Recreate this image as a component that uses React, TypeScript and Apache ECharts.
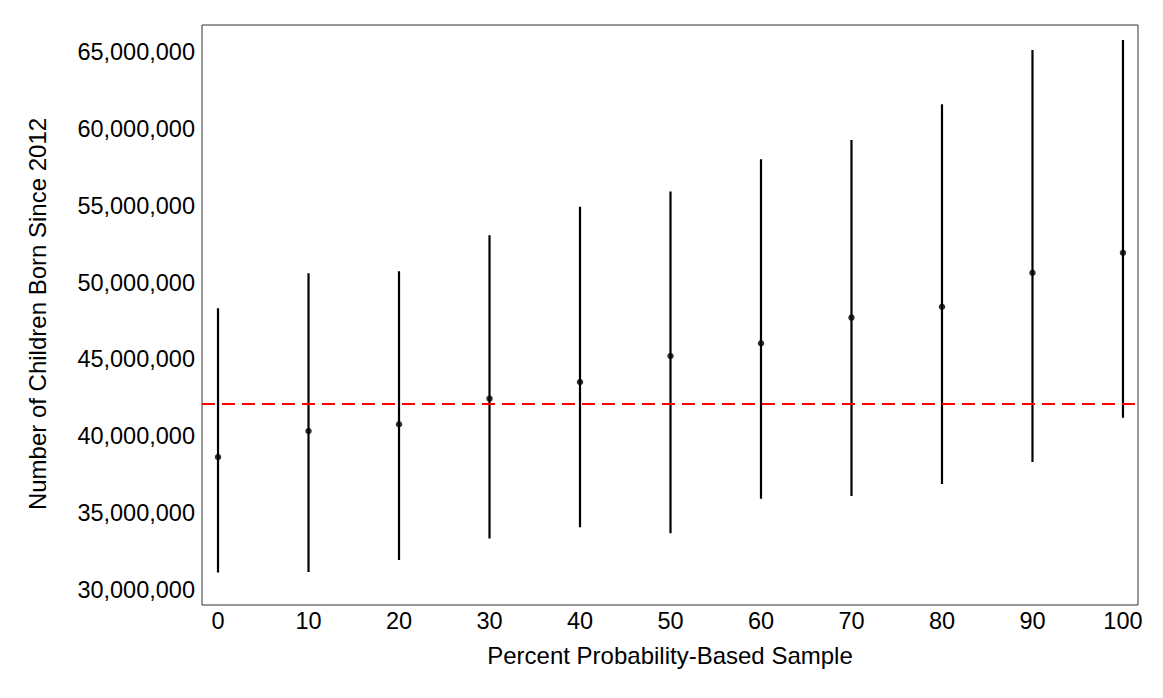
import React, { useEffect, useRef } from "react";
import * as echarts from "echarts";

const percents = [0, 10, 20, 30, 40, 50, 60, 70, 80, 90, 100];
const estimates = [38.65, 40.34, 40.78, 42.45, 43.53, 45.22, 46.05, 47.72, 48.43, 50.64, 51.94].map((v) => v * 1e6);
const lowers = [31.13, 31.17, 31.95, 33.34, 34.08, 33.69, 35.94, 36.12, 36.9, 38.33, 41.21].map((v) => v * 1e6);
const uppers = [48.33, 50.6, 50.74, 53.08, 54.94, 55.92, 58.02, 59.28, 61.6, 65.13, 65.78].map((v) => v * 1e6);
const referenceValue = 42.1e6;
const yTicks = [30e6, 35e6, 40e6, 45e6, 50e6, 55e6, 60e6, 65e6];
const xTicks = [0, 10, 20, 30, 40, 50, 60, 70, 80, 90, 100];

const FONT = "'Liberation Sans', Arial, Helvetica, sans-serif";

export default function App() {
  const ref = useRef<HTMLDivElement>(null);
  useEffect(() => {
    if (!ref.current) return;
    const chart = echarts.init(ref.current, null, { renderer: "svg" });
    const barData = percents.map((p, i) => [p, lowers[i], uppers[i]]);
    const pointData = percents.map((p, i) => [p, estimates[i]]);
    chart.setOption({
      animation: false,
      backgroundColor: "#ffffff",
      grid: { left: 194, top: 17, width: 936, height: 580, show: true, borderColor: "#333333", borderWidth: 1, backgroundColor: "transparent" },
      xAxis: {
        type: "value",
        min: -1.77,
        max: 101.66,
        axisLine: { show: false },
        axisTick: { show: false },
        splitLine: { show: false },
        axisLabel: {
          customValues: xTicks,
          color: "#000000",
          fontSize: 23.5,
          fontFamily: FONT,
          margin: 4,
        },
      },
      yAxis: {
        type: "value",
        min: 29.02e6,
        max: 66.76e6,
        axisLine: { show: false },
        axisTick: { show: false },
        splitLine: { show: false },
        axisLabel: {
          customValues: yTicks,
          color: "#000000",
          fontSize: 23.5,
          fontFamily: FONT,
          margin: 7,
          formatter: (v: number) => Math.round(v).toLocaleString("en-US"),
        },
      },
      graphic: [
        {
          type: "text",
          x: 29,
          y: 306,
          rotation: Math.PI / 2,
          style: {
            text: "Number of Children Born Since 2012",
            fill: "#000000",
            font: `24px ${FONT}`,
            align: "center",
            verticalAlign: "middle",
          },
        },
        {
          type: "text",
          x: 662,
          y: 647,
          style: {
            text: "Percent Probability-Based Sample",
            fill: "#000000",
            font: `24px ${FONT}`,
            align: "center",
            verticalAlign: "middle",
          },
        },
      ],
      series: [
        {
          type: "custom",
          data: barData,
          renderItem: (params: any, api: any) => {
            const x = api.value(0);
            const p1 = api.coord([x, api.value(1)]);
            const p2 = api.coord([x, api.value(2)]);
            return {
              type: "line",
              shape: { x1: p1[0], y1: p1[1], x2: p2[0], y2: p2[1] },
              style: { stroke: "#000000", lineWidth: 2.2 },
            };
          },
          z: 2,
        },
        {
          type: "scatter",
          data: pointData,
          symbol: "circle",
          symbolSize: 6.5,
          itemStyle: { color: "#000000" },
          z: 3,
          markLine: {
            silent: true,
            symbol: "none",
            label: { show: false },
            lineStyle: { color: "#ff0000", type: [13, 7], width: 2 },
            data: [{ yAxis: referenceValue }],
          },
        },
      ],
    });
    return () => chart.dispose();
  }, []);
  return <div ref={ref} style={{ width: 1147, height: 682 }} />;
}
